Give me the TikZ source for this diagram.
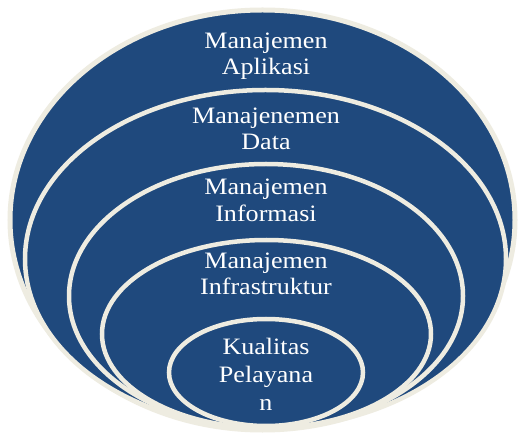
\documentclass[tikz,border=0pt]{standalone}
\usepackage{fontspec}
\setmainfont{Liberation Serif}[FakeStretch=1.11]
\definecolor{ringblue}{HTML}{1F497D}
\definecolor{ringcream}{HTML}{EEECE1}
\tikzset{
  ring/.style={fill=ringblue, draw=ringcream, line width=4.5pt},
  lbl/.style={text=white, anchor=base, inner sep=0pt, font=\fontsize{23.5}{27}\selectfont}
}
\begin{document}
\begin{tikzpicture}[x=1pt,y=-1pt]
\useasboundingbox[fill=white] (0,0) rectangle (519,435);
% rings
\draw[ring, line width=5pt] (262.5,220) ellipse [x radius=252.5pt, y radius=210pt];
\draw[ring] (265.5,259) ellipse [x radius=240.5pt, y radius=169pt];
\draw[ring] (266,296) ellipse [x radius=197pt, y radius=132pt];
\draw[ring] (266.5,334) ellipse [x radius=164.5pt, y radius=94pt];
\draw[ring] (266,372.5) ellipse [x radius=97pt, y radius=53.5pt];
% labels
\node[lbl] (a1) at (266,48.3) {Manajemen};
\node[lbl] (a2) at (266,75) {Aplikasi};
\node[lbl] (b1) at (266,123.3) {Manajenemen};
\node[lbl] (b2) at (266,150) {Data};
\node[lbl] (c1) at (266,195) {Manajemen};
\node[lbl] (c2) at (266,221.7) {Informasi};
\node[lbl] (d1) at (266,268.3) {Manajemen};
\node[lbl] (d2) at (266,295) {Infrastruktur};
\node[lbl] (e1) at (266,355) {Kualitas};
\node[lbl] (e2) at (266,382.7) {Pelayana};
\node[lbl] (e3) at (266,410) {n};
\end{tikzpicture}
\end{document}
